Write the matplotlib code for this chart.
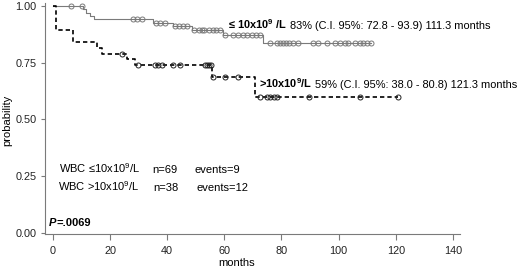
import numpy as np
import matplotlib
matplotlib.use("Agg")
import matplotlib.pyplot as plt

plt.rcParams['font.family'] = ['Liberation Sans', 'DejaVu Sans']
plt.rcParams['mathtext.default'] = 'regular'

# WBC <= 10x10^9/L
le_times = [0, 10.5, 11.5, 13.0, 14.3, 35.0, 42.0, 48.7, 59.5, 73.5, 111.3]
le_surv = [1.0, 0.986, 0.971, 0.957, 0.942, 0.927, 0.912, 0.894, 0.872, 0.837, 0.837]
le_cens = [6.3, 10.0, 28.0, 29.5, 31.0, 36.2, 37.5, 39.3, 42.8, 44.0, 45.5, 47.0,
           49.5, 51.0, 52.0, 53.0, 54.5, 56.0, 57.2, 58.5,
           60.2, 63.0, 64.8, 66.5, 68.0, 69.8, 71.0, 72.5,
           76.0, 78.5, 79.5, 80.5, 81.5, 82.5, 84.0, 85.8, 91.0, 92.8, 96.0, 98.7,
           100.5, 102.2, 103.3, 105.7, 107.5, 108.5, 110.0, 111.3]

# WBC > 10x10^9/L
gt_times = [0, 1.0, 7.0, 15.4, 17.2, 25.9, 28.7, 55.6, 70.7, 120.8]
gt_surv = [1.0, 0.895, 0.842, 0.816, 0.790, 0.766, 0.740, 0.685, 0.600, 0.600]
gt_cens = [24.2, 29.8, 35.7, 36.8, 38.2, 42.0, 44.5, 53.2, 54.0, 54.5, 55.2,
           55.9, 60.2, 64.8, 72.5, 75.0, 76.0, 77.4, 78.4, 89.6, 107.5, 120.8]

x_ticks = [0, 20, 40, 60, 80, 100, 120, 140]
y_ticks = [0.0, 0.25, 0.5, 0.75, 1.0]


def level_at(times, surv, t):
    i = np.searchsorted(times, t, side='right') - 1
    return np.asarray(surv)[i]


fig = plt.figure(figsize=(5.2, 2.68), dpi=100)
ax = fig.add_axes([45 / 520, 34 / 268, 415 / 520, 231 / 268])

grey = '#7a7a7a'
ax.step(le_times, le_surv, where='post', color=grey, lw=0.8)
ax.plot(le_cens, level_at(le_times, le_surv, le_cens), 'o', ms=3.6,
        mfc='none', mec=grey, mew=0.7)

ax.step(gt_times, gt_surv, where='post', color='black', lw=1.2,
        linestyle=(0, (2.6, 1.8)))
ax.plot(gt_cens, level_at(gt_times, gt_surv, gt_cens), 'o', ms=3.6,
        mfc='none', mec='#222222', mew=0.7)

ax.set_xlim(-2.8, 142.5)
ax.set_ylim(-0.0044, 1.013)
ax.set_xticks(x_ticks)
ax.set_yticks(y_ticks)
ax.set_yticklabels(['%.2f' % v for v in y_ticks])
for s in ['top', 'right']:
    ax.spines[s].set_visible(False)
for s in ['left', 'bottom']:
    ax.spines[s].set_color(grey)
    ax.spines[s].set_linewidth(0.8)
ax.tick_params(axis='x', length=4, width=0.8, color=grey, pad=4.5,
               labelsize=7.8, labelcolor='#222222')
ax.tick_params(axis='y', length=3, width=0.8, color=grey, pad=3,
               labelsize=7.8, labelcolor='#222222')

fs = 7.9
t1 = ax.text(61.3, 0.897, r'≤ 10x10$^9$ /L', fontsize=fs, fontweight='bold',
             va='baseline', ha='left')
ax.annotate(' 83% (C.I. 95%: 72.8 - 93.9) 111.3 months', xy=(1, 0),
            xycoords=t1, va='bottom', ha='left', fontsize=fs)
t2 = ax.text(72.1, 0.640, r'>10x10$^9$/L', fontsize=fs, fontweight='bold',
             va='baseline', ha='left')
ax.annotate(' 59% (C.I. 95%: 38.0 - 80.8) 121.3 months', xy=(1, 0),
            xycoords=t2, va='bottom', ha='left', fontsize=fs)

fs2 = 8
ax.text(2.1, 0.263, r'WBC ≤10x10$^9$/L', fontsize=fs2, va='baseline')
ax.text(34.7, 0.263, 'n=69', fontsize=fs2, va='baseline')
ax.text(49.7, 0.263, 'events=9', fontsize=fs2, va='baseline')
ax.text(1.75, 0.184, r'WBC >10x10$^9$/L', fontsize=fs2, va='baseline')
ax.text(35.0, 0.184, 'n=38', fontsize=fs2, va='baseline')
ax.text(50.4, 0.184, 'events=12', fontsize=fs2, va='baseline')

tp = ax.text(-1.4, 0.032, 'P', fontsize=fs2, fontweight='bold',
             fontstyle='italic', va='baseline')
ax.annotate('=.0069', xy=(1, 0), xycoords=tp, va='bottom', ha='left',
            fontsize=fs2, fontweight='bold')

fig.text(237 / 520, 2.5 / 268, 'months', fontsize=fs2, ha='center',
         va='baseline')
fig.text(7 / 520, 148 / 268, 'probability', fontsize=fs2, rotation=90,
         ha='center', va='center')

fig.savefig('out.png', dpi=100)
